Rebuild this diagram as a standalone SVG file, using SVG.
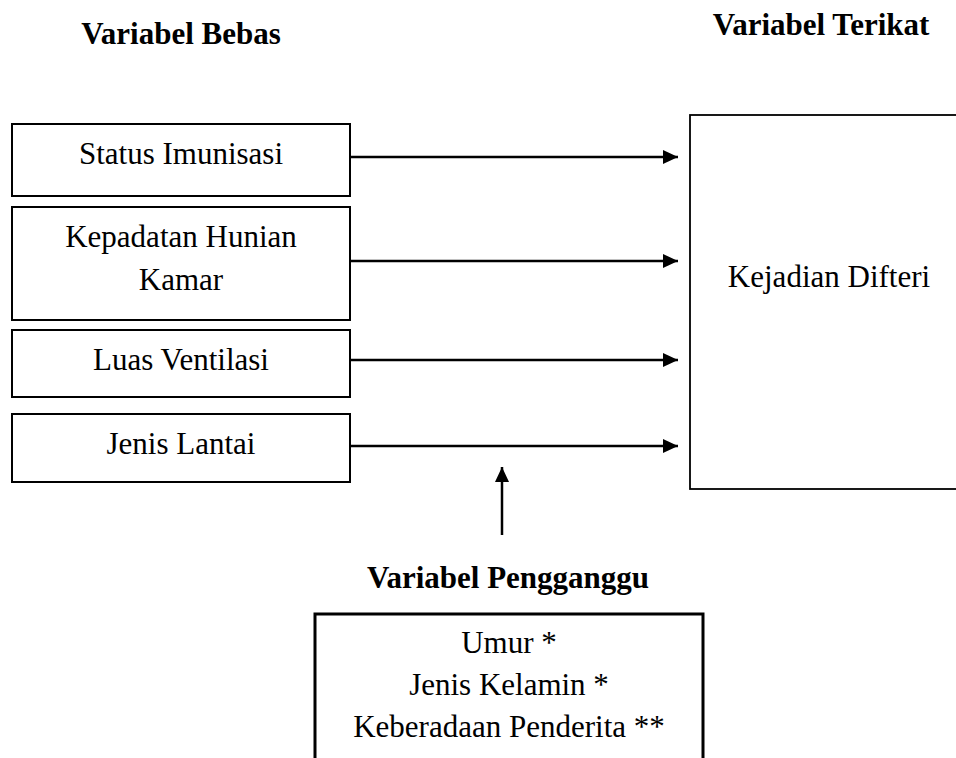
<svg xmlns="http://www.w3.org/2000/svg" width="956" height="758" viewBox="0 0 956 758">
<defs>
<style>
.box{fill:#fff;stroke:#000;stroke-width:2}
.t{font-size:31px;fill:#000;text-anchor:middle}
.b{font-weight:bold}
.ln{stroke:#000;stroke-width:2.5;fill:none}
</style>
<marker id="ah" markerUnits="userSpaceOnUse" markerWidth="16" markerHeight="16" refX="15" refY="7" orient="auto" viewBox="0 0 16 14">
<polygon points="0,0 15,7 0,14" fill="#000"/>
</marker>
</defs>
<rect width="956" height="758" fill="#fff"/>
<g font-family="Liberation Serif, Tinos, DejaVu Serif, serif">
<text class="t b" x="181" y="44">Variabel Bebas</text>
<text class="t b" x="821" y="35">Variabel Terikat</text>
<g id="n1"><rect class="box" x="12" y="124" width="338" height="72"/><text class="t" x="181" y="164">Status Imunisasi</text></g>
<g id="n2"><rect class="box" x="12" y="207" width="338" height="113"/><text class="t" x="181" y="247">Kepadatan Hunian</text><text class="t" x="181" y="290">Kamar</text></g>
<g id="n3"><rect class="box" x="12" y="330" width="338" height="67"/><text class="t" x="181" y="370">Luas Ventilasi</text></g>
<g id="n4"><rect class="box" x="12" y="414" width="338" height="68"/><text class="t" x="181" y="454">Jenis Lantai</text></g>
<g id="n5"><rect x="690" y="115" width="280" height="374" fill="#fff" stroke="#000" stroke-width="1.8"/><text class="t" x="829" y="287">Kejadian Difteri</text></g>
<g id="n6"><text class="t b" x="508" y="588">Variabel Pengganggu</text>
<path d="M315,760 V614 H703 V760" fill="none" stroke="#000" stroke-width="3"/>
<text class="t" x="509" y="653">Umur *</text>
<text class="t" x="509" y="695">Jenis Kelamin *</text>
<text class="t" x="509" y="737">Keberadaan Penderita **</text></g>
</g>
<g id="connectors">
<line class="ln" x1="350" y1="157" x2="678" y2="157" marker-end="url(#ah)"/>
<line class="ln" x1="350" y1="261" x2="678" y2="261" marker-end="url(#ah)"/>
<line class="ln" x1="350" y1="360" x2="678" y2="360" marker-end="url(#ah)"/>
<line class="ln" x1="350" y1="446" x2="678" y2="446" marker-end="url(#ah)"/>
<line class="ln" x1="502" y1="535" x2="502" y2="467" marker-end="url(#ah)"/>
</g>
</svg>
